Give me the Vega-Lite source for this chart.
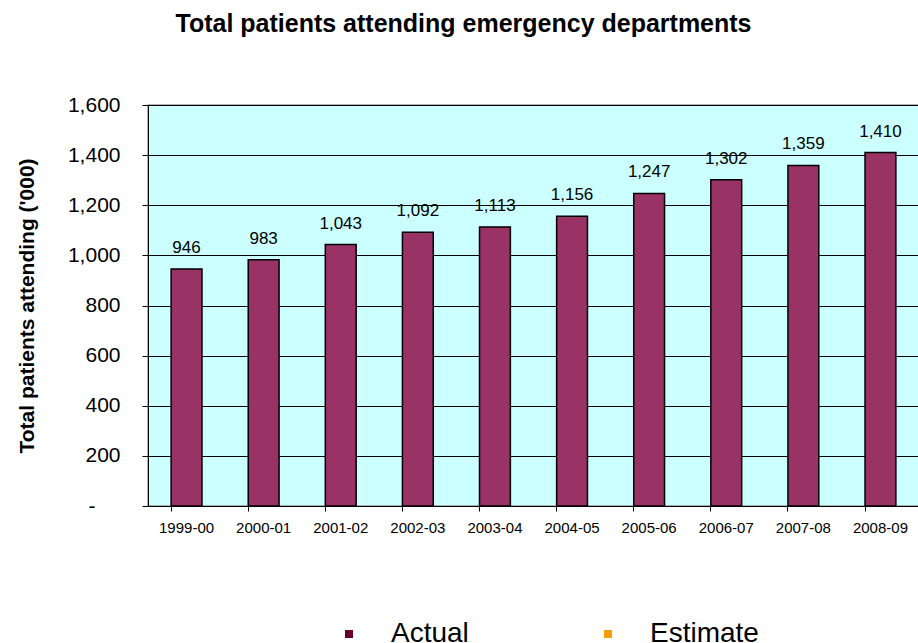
{
  "$schema": "https://vega.github.io/schema/vega-lite/v6.json",
  "autosize": {"type": "none"},
  "width": 771,
  "height": 401,
  "padding": {"left": 148, "top": 105, "right": 0, "bottom": 137},
  "background": "white",
  "title": {
    "text": "Total patients attending emergency departments",
    "font": "Liberation Sans",
    "fontSize": 25,
    "fontWeight": "bold",
    "color": "black",
    "anchor": "middle",
    "frame": "group",
    "dx": -70,
    "offset": 57
  },
  "config": {
    "view": {"fill": "#CCFFFF", "stroke": "#999999", "strokeWidth": 1.5},
    "font": "Liberation Sans"
  },
  "data": {
    "values": [
      {"year": "1999-00", "patients": 946, "type": "Actual"},
      {"year": "2000-01", "patients": 983, "type": "Actual"},
      {"year": "2001-02", "patients": 1043, "type": "Actual"},
      {"year": "2002-03", "patients": 1092, "type": "Actual"},
      {"year": "2003-04", "patients": 1113, "type": "Actual"},
      {"year": "2004-05", "patients": 1156, "type": "Actual"},
      {"year": "2005-06", "patients": 1247, "type": "Actual"},
      {"year": "2006-07", "patients": 1302, "type": "Actual"},
      {"year": "2007-08", "patients": 1359, "type": "Actual"},
      {"year": "2008-09", "patients": 1410, "type": "Actual"}
    ]
  },
  "encoding": {
    "x": {
      "field": "year",
      "type": "nominal",
      "sort": null,
      "scale": {"paddingInner": 0.6, "paddingOuter": 0.3},
      "axis": {
        "title": null,
        "labelAngle": 0,
        "labelFont": "Liberation Sans",
        "labelFontSize": 15,
        "labelColor": "black",
        "labelPadding": 9,
        "bandPosition": 0,
        "tickColor": "black",
        "tickSize": 5,
        "domainColor": "black",
        "domainWidth": 1,
        "grid": false
      }
    },
    "y": {
      "field": "patients",
      "type": "quantitative",
      "scale": {"domain": [0, 1600], "nice": false},
      "axis": {
        "title": "Total patients attending ('000)",
        "titleFont": "Liberation Sans",
        "titleFontSize": 21,
        "titleFontWeight": "bold",
        "titleColor": "black",
        "titlePadding": 30,
        "values": [0, 200, 400, 600, 800, 1000, 1200, 1400, 1600],
        "labelExpr": "datum.value === 0 ? '-' : format(datum.value, ',')",
        "labelFont": "Liberation Sans",
        "labelFontSize": 21,
        "labelColor": "black",
        "labelPadding": {"condition": {"test": "datum.value === 0", "value": 47}, "value": 22},
        "tickSize": 6,
        "tickColor": "black",
        "domainColor": "black",
        "domainWidth": 1,
        "grid": true,
        "gridColor": "black",
        "gridWidth": 1,
        "gridOpacity": 1
      }
    }
  },
  "layer": [
    {
      "mark": {"type": "bar", "fill": "#993366", "stroke": "black", "strokeWidth": 1.5}
    },
    {
      "mark": {"type": "text", "baseline": "alphabetic", "dy": -16, "fontSize": 17, "font": "Liberation Sans", "color": "black"},
      "encoding": {
        "text": {"field": "patients", "type": "quantitative", "format": ","}
      }
    },
    {
      "mark": {"type": "square", "opacity": 0, "filled": true},
      "encoding": {
        "color": {
          "field": "type",
          "type": "nominal",
          "scale": {"domain": ["Actual", "Estimate"], "range": ["#660033", "#FF9900"]},
          "legend": {
            "title": null,
            "orient": "none",
            "direction": "horizontal",
            "legendX": 187,
            "legendY": 515,
            "padding": 0,
            "symbolType": "square",
            "symbolSize": 64,
            "symbolOpacity": 1,
            "symbolStrokeWidth": 0,
            "labelFont": "Liberation Sans",
            "labelFontSize": 28,
            "labelColor": "black",
            "labelOffset": 28,
            "columnPadding": 125,
            "labelLimit": 300
          }
        }
      }
    }
  ]
}
